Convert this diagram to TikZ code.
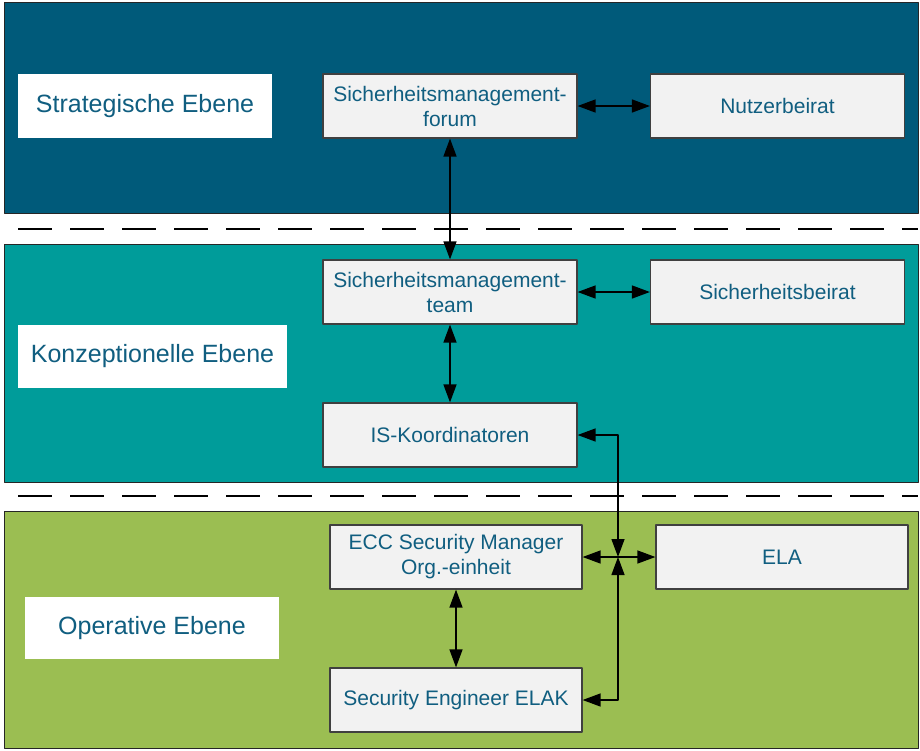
\documentclass[tikz,border=0pt]{standalone}
\usepackage{fontspec}
\setmainfont{Liberation Sans}
\usetikzlibrary{arrows.meta}
\definecolor{strat}{RGB}{0,90,122}
\definecolor{konz}{RGB}{0,156,154}
\definecolor{oper}{RGB}{155,190,82}
\definecolor{schrift}{RGB}{16,94,128}
\definecolor{kasten}{RGB}{242,242,242}
\begin{document}
\begin{tikzpicture}[x=1pt, y=-1pt, line cap=round, line join=round,
    ebene/.style={fill=white, text=schrift, inner sep=0pt, font=\fontsize{25}{30}\selectfont},
    stelle/.style={draw=black!75, line width=1.2pt, fill=kasten, text=schrift, inner sep=0pt, minimum width=254pt, minimum height=64pt, align=center, font=\fontsize{21}{25}\selectfont},
    pfeil/.style={line width=1.4pt, {Triangle[length=18pt,width=13pt]}-{Triangle[length=18pt,width=13pt]}},
    halbpfeil/.style={line width=1.4pt, -{Triangle[length=18pt,width=13pt]}}]
            \useasboundingbox (0,0) rectangle (920,750);
            \foreach \ya/\yb/\f in {2/213/strat,244/482/konz,511/748/oper}
            \draw[fill=\f, draw=black!85, line width=1pt](4,\ya)rectangle(918,\yb);
            \foreach \y in {229,496}
            \draw[line width=2pt, line cap=butt, dash pattern=on 34pt off 18pt](18,\y)--(918,\y);
            % Ebenen
            \node[ebene, minimum width=254pt, minimum height=64pt](lstrat) at (145,106){Strategische Ebene};
            \node[ebene, minimum width=269pt, minimum height=63pt](lkonz) at (152.5,356.5){Konzeptionelle Ebene};
            \node[ebene, minimum width=254pt, minimum height=62pt](loper) at (152,628){Operative Ebene};
            % Stellen
            \node[stelle](forum) at (450,106){Sicherheitsmanagement-\\forum};
            \node[stelle](nutzer) at (777.5,106){Nutzerbeirat};
            \node[stelle](team) at (450,292){Sicherheitsmanagement-\\team};
            \node[stelle](beirat) at (777.5,292){Sicherheitsbeirat};
            \node[stelle](koord) at (450,435){IS-Koordinatoren};
            \node[stelle, minimum width=252pt](ecc) at (456,557){ECC Security Manager\\Org.-einheit};
            \node[stelle, minimum width=252pt](ela) at (782,557){ELA};
            \node[stelle, minimum width=252pt](elak) at (456,700){Security Engineer ELAK};
            \coordinate(knoten) at (618,557);
            % Verbindungen
            \draw[pfeil](forum)--(nutzer);
            \draw[pfeil](team)--(beirat);
            \draw[pfeil](forum)--(team);
            \draw[pfeil](team)--(koord);
            \draw[pfeil](ecc)--(elak);
            \draw[pfeil](koord.east)-|(knoten);
            \draw[pfeil](elak.east)-|(knoten);
            \draw[halbpfeil](knoten)--(ecc.east);
            \draw[halbpfeil](knoten)--(ela.west);
        \end{tikzpicture}
\end{document}
